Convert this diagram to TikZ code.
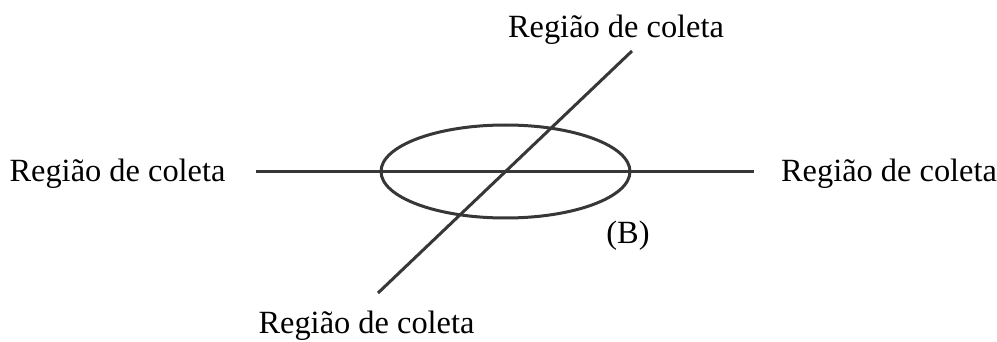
\documentclass[tikz,border=0pt]{standalone}
\usepackage{fontspec}
\setmainfont{Liberation Serif}
\usetikzlibrary{positioning,calc}
\definecolor{tracocinza}{RGB}{55,55,55}

\begin{document}
\begin{tikzpicture}[
    x=0.5pt, y=-0.5pt,
    reta/.style={draw=tracocinza, line width=1.5pt},
    rotulo/.style={inner sep=0pt, anchor=base, font=\fontsize{16.2}{19}\selectfont}
]
    \useasboundingbox (0,0) rectangle (997,342);

    % Extremidades das retas
    \coordinate (hesq) at (256,172);
    \coordinate (hdir) at (754,172);
    \coordinate (dinf) at (378,293);
    \coordinate (dsup) at (632,51);
    \coordinate (centro) at (505.5,171.5);

    % Regioes de coleta
    \node[rotulo] (resq) at (117.5,182) {Região de coleta};
    \node[rotulo] (rdir) at (889,182) {Região de coleta};
    \node[rotulo] (rsup) at (616,38) {Região de coleta};
    \node[rotulo] (rinf) at (366.5,333) {Região de coleta};
    \node[rotulo] (b) at (628,243) {(B)};

    % Retas e elipse
    \draw[reta] (hesq) -- (hdir);
    \draw[reta] (dinf) -- (dsup);
    \draw[reta] (centro) ellipse [x radius=62.25pt, y radius=23.25pt];
\end{tikzpicture}
\end{document}
